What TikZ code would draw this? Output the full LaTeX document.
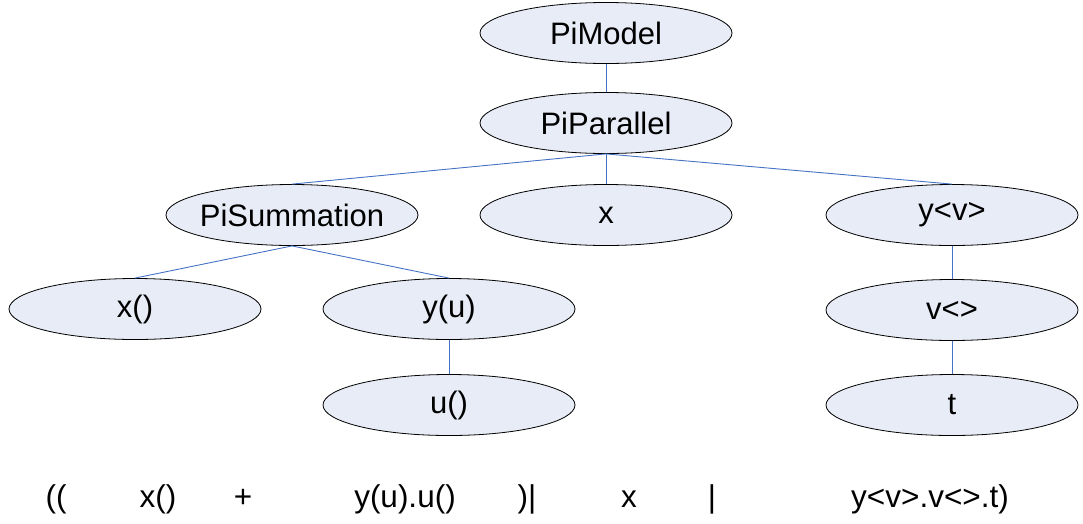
\documentclass[tikz,border=0pt]{standalone}
\usepackage{fontspec}
\setmainfont{Liberation Sans}
\usetikzlibrary{shapes.geometric}
\definecolor{nodefill}{RGB}{231,236,246}
\definecolor{linkblue}{RGB}{68,114,196}
\tikzset{
  tnode/.style={ellipse, draw=black, line width=0.8pt, fill=nodefill, minimum width=252pt, minimum height=61pt, inner ysep=0pt, inner xsep=-30pt, font=\fontsize{31}{37}\selectfont},
  link/.style={draw=linkblue, line width=0.9pt},
  expr/.style={inner sep=0pt, anchor=base, font=\fontsize{31.5}{37}\selectfont}
}
\begin{document}
\begin{tikzpicture}[x=1pt,y=-1pt]
\useasboundingbox (0,0) rectangle (1083,523);
\node[tnode] (model) at (606,33) {PiModel};
\node[tnode] (par) at (606,123) {PiParallel};
\node[tnode] (sum) at (292,215) {PiSummation};
\node[tnode] (x) at (606,215) {x};
\node[tnode] (yv) at (952,215) {y<v>};
\node[tnode] (xin) at (135,309) {x()};
\node[tnode] (yu) at (449,309) {y(u)};
\node[tnode] (vout) at (952,310) {v<>};
\node[tnode] (uin) at (449,405) {u()};
\node[tnode] (t) at (952,405) {t};
\draw[link] (model.south) -- (par.north);
\draw[link] (par.south) -- (sum.north);
\draw[link] (par.south) -- (x.north);
\draw[link] (par.south) -- (yv.north);
\draw[link] (sum.south) -- (xin.north);
\draw[link] (sum.south) -- (yu.north);
\draw[link] (yu.south) -- (uin.north);
\draw[link] (yv.south) -- (vout.north);
\draw[link] (vout.south) -- (t.north);
\node[expr] (e1) at (56,507) {((};
\node[expr] (e2) at (158,507) {x()};
\node[expr] (e3) at (243,507) {+};
\node[expr] (e4) at (405,507) {y(u).u()};
\node[expr] (e5) at (527,507) {)|};
\node[expr] (e6) at (629,507) {x};
\node[expr] (e7) at (712,507) {|};
\node[expr] (e8) at (930,507) {y<v>.v<>.t)};
\end{tikzpicture}
\end{document}
